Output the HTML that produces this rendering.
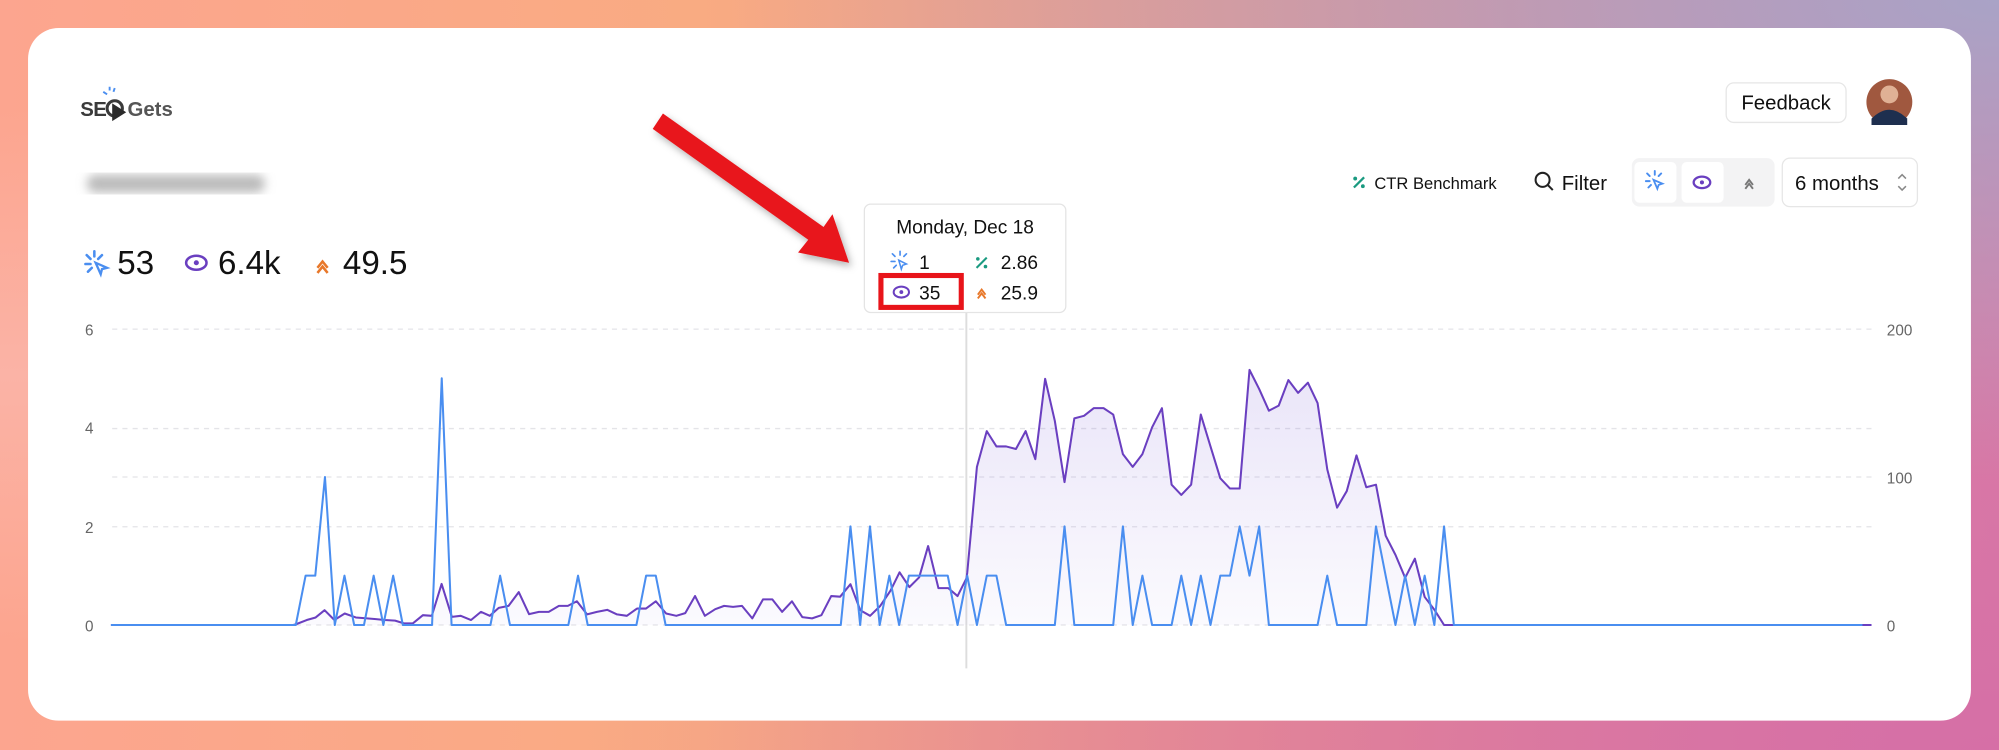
<!DOCTYPE html>
<html><head><meta charset="utf-8"><style>
html,body{margin:0;padding:0;width:1999px;height:750px;overflow:hidden}
body{background:
radial-gradient(ellipse at 100% 0%,#a9a3c6 0%,rgba(169,163,198,0) 45%),
radial-gradient(ellipse at 100% 100%,#d66fa6 0%,rgba(214,111,166,0) 50%),
radial-gradient(ellipse at 0% 50%,#fbb3a6 0%,rgba(251,179,166,0) 50%),
linear-gradient(90deg,#fca58f 0%,#f9ab82 35%,#e8918f 70%,#d97ea6 100%);
font-family:"Liberation Sans",sans-serif}
svg{position:absolute;left:0;top:0}
text{font-family:"Liberation Sans",sans-serif}
</style></head><body>
<svg width="1999" height="750" viewBox="0 0 1568 588" preserveAspectRatio="none" xmlns="http://www.w3.org/2000/svg">
<defs>
<linearGradient id="pf" x1="0" y1="0" x2="0" y2="1"><stop offset="0" stop-color="#7b5cd6" stop-opacity="0.16"/><stop offset="1" stop-color="#7b5cd6" stop-opacity="0.03"/></linearGradient>
<filter id="bl"><feGaussianBlur stdDeviation="4"/></filter>
<filter id="sh" x="-20%" y="-20%" width="140%" height="140%"><feDropShadow dx="2" dy="3" stdDeviation="3" flood-opacity="0.3"/></filter>
</defs>
<rect x="22" y="22" width="1524" height="543" rx="24" fill="#fff"/>
<!-- logo -->
<text x="63" y="91" font-size="16" font-weight="bold" fill="#3a3a3a" letter-spacing="-0.5">SE</text>
<circle cx="90" cy="85" r="6" fill="none" stroke="#3a3a3a" stroke-width="2.4"/>
<path d="M88 81 L99 88 L88 95Z" fill="#2b2b2b"/>
<text x="100" y="91" font-size="16" font-weight="bold" fill="#555">Gets</text>
<path d="M81 72l3 2M86 68l0 3M90 69l-1 3" stroke="#4a8ef0" stroke-width="1.5"/>
<!-- blurred domain -->
<rect x="68" y="137" width="140" height="14" rx="7" fill="#bbb" filter="url(#bl)"/>
<!-- stats -->
<g stroke="#4a8ef0" stroke-width="2" stroke-linecap="round"><path d="M68 200l3 3M74 197v4M80 200l-3 3M67 207h4M69 213l3-3"/></g>
<path d="M75 206l9 4-4 1-1 4z" fill="none" stroke="#4a8ef0" stroke-width="1.8"/>
<text x="92" y="215" font-size="26" fill="#111">53</text>
<ellipse cx="154" cy="206" rx="8" ry="5.5" fill="none" stroke="#6a3fc0" stroke-width="2"/><circle cx="154" cy="206" r="2" fill="#6a3fc0"/>
<text x="171" y="215" font-size="26" fill="#111">6.4k</text>
<path d="M249 210l4-5 4 5M249 214l4-5 4 5" fill="none" stroke="#e8782a" stroke-width="2"/>
<text x="269" y="215" font-size="26" fill="#111">49.5</text>
<!-- header right -->
<rect x="1354" y="65" width="94" height="31" rx="6" fill="#fff" stroke="#e6e6e6"/>
<text x="1401" y="86" font-size="16" fill="#111" text-anchor="middle">Feedback</text>
<circle cx="1482" cy="80" r="18" fill="#a0583f"/><circle cx="1482" cy="74" r="7" fill="#e0b195"/><path d="M1468 93 q14-14 28 0 v5 h-28z" fill="#1e2f4f"/>
<path d="M1062 147l8-8" stroke="#1a9a80" stroke-width="1.8"/><circle cx="1063" cy="140" r="1.5" fill="#1a9a80"/><circle cx="1069" cy="146" r="1.5" fill="#1a9a80"/>
<text x="1078" y="148" font-size="13" fill="#111">CTR Benchmark</text>
<circle cx="1210" cy="141" r="5.5" fill="none" stroke="#222" stroke-width="1.6"/><path d="M1214 145l4 4" stroke="#222" stroke-width="1.6"/>
<text x="1225" y="149" font-size="16" fill="#111">Filter</text>
<rect x="1280" y="124" width="112" height="38" rx="6" fill="#f3f3f4"/>
<rect x="1282" y="127" width="33" height="32" rx="4" fill="#fff"/><rect x="1319" y="127" width="33" height="32" rx="4" fill="#fff"/>
<g stroke="#4a8ef0" stroke-width="1.5" stroke-linecap="round"><path d="M1292 136l2 2M1298 134v3M1303 136l-2 2M1291 142h3M1293 147l2-2"/></g>
<path d="M1297 141l7 3-3 1-1 3z" fill="none" stroke="#4a8ef0" stroke-width="1.4"/>
<ellipse cx="1335" cy="143" rx="6.5" ry="4.5" fill="none" stroke="#6a3fc0" stroke-width="1.8"/><circle cx="1335" cy="143" r="1.6" fill="#6a3fc0"/>
<path d="M1369 145l3-4 3 4M1369 148l3-4 3 4" fill="none" stroke="#777" stroke-width="1.5"/>
<rect x="1398" y="124" width="106" height="38" rx="6" fill="#fff" stroke="#e6e6e6"/>
<text x="1408" y="149" font-size="16" fill="#111">6 months</text>
<path d="M1489 140l3-3 3 3M1489 146l3 3 3-3" fill="none" stroke="#888" stroke-width="1.2"/>
<!-- grid -->
<g stroke="#e4e4e8" stroke-dasharray="4 4" stroke-width="1">
<line x1="88" y1="258" x2="1468" y2="258"/><line x1="88" y1="336" x2="1468" y2="336"/><line x1="88" y1="374" x2="1468" y2="374"/><line x1="88" y1="413" x2="1468" y2="413"/><line x1="88" y1="490" x2="1468" y2="490"/>
</g>
<g font-size="12" fill="#666">
<text x="70" y="263" text-anchor="middle">6</text><text x="70" y="340" text-anchor="middle">4</text><text x="70" y="418" text-anchor="middle">2</text><text x="70" y="495" text-anchor="middle">0</text>
<text x="1480" y="263">200</text><text x="1480" y="379">100</text><text x="1480" y="495">0</text>
</g>
<g id="xl" font-size="12" fill="#666" text-anchor="middle"></g>
<line x1="758" y1="245" x2="758" y2="524" stroke="#ddd" stroke-width="1.5"/>
<path id="pfill" fill="url(#pf)"/>
<path id="pline" fill="none" stroke="#6a3fc0" stroke-width="1.6" stroke-linejoin="round"/>
<path id="bline" fill="none" stroke="#4a8ef0" stroke-width="1.6" stroke-linejoin="round"/>
<!-- tooltip -->
<rect x="678" y="160" width="158" height="85" rx="5" fill="#fff" stroke="#e4e4e4"/>
<text x="757" y="183" font-size="15" fill="#111" text-anchor="middle">Monday, Dec 18</text>
<g stroke="#4a8ef0" stroke-width="1.3" stroke-linecap="round"><path d="M700 199l2 2M706 197v3M711 199l-2 2M699 205h3M701 210l2-2"/></g>
<path d="M705 204l6 3-3 1-1 3z" fill="none" stroke="#4a8ef0" stroke-width="1.2"/>
<text x="721" y="211" font-size="15" fill="#111">1</text>
<path d="M766 210l8-8" stroke="#1a9a80" stroke-width="1.6"/><circle cx="767" cy="203" r="1.4" fill="#1a9a80"/><circle cx="773" cy="209" r="1.4" fill="#1a9a80"/>
<text x="785" y="211" font-size="15" fill="#111">2.86</text>
<ellipse cx="707" cy="229" rx="6" ry="4.3" fill="none" stroke="#6a3fc0" stroke-width="1.6"/><circle cx="707" cy="229" r="1.5" fill="#6a3fc0"/>
<text x="721" y="235" font-size="15" fill="#111">35</text>
<path d="M767 231l3-4 3 4M767 234l3-4 3 4" fill="none" stroke="#e8782a" stroke-width="1.5"/>
<text x="785" y="235" font-size="15" fill="#111">25.9</text>
<rect x="691" y="216" width="63" height="25" fill="none" stroke="#e8141a" stroke-width="4"/>
<!-- arrow -->
<g filter="url(#sh)"><path d="M512 101 L520 89 L646 178 L653 168 L666 206 L626 198 L634 188 Z" fill="#e8141a"/></g>
<script>
var X=function(d){return 87+d*7.633};
var clicks={20:1,21:1,22:3,24:1,27:1,29:1,34:5,40:1,48:1,55:1,56:1,76:2,78:2,80:1,82:1,83:1,84:1,85:1,86:1,88:1,90:1,91:1,98:2,104:2,106:1,110:1,112:1,114:1,115:1,116:2,117:1,118:2,125:1,130:2,131:1,133:1,135:1,137:2};
var bp=[];for(var d=0;d<=180;d++){var v=clicks[d]||0;bp.push(X(d).toFixed(1)+' '+(490-v*38.67).toFixed(1));}
document.getElementById('bline').setAttribute('d','M'+bp.join(' L'));
var z=[[35,318],[60,305],[80,297],[100,275],[122,305],[145,285],[170,297],[195,300],[215,302],[235,305],[258,307],[278,315],[298,315],[320,290],[340,292],[362,195],[385,295],[405,292],[428,305],[450,280],[470,292],[490,268],[512,262],[535,220],[558,287],[580,280],[602,280],[625,262],[645,262],[665,248],[688,288],[710,280],[733,274],[755,288],[777,292],[800,270],[820,270],[842,248],[865,285],[888,292],[908,284],[930,232],[952,292],[975,272],[995,262],[1015,265],[1035,262],[1058,300],[1082,242],[1103,242],[1125,280],[1147,248],[1170,296],[1192,300],[1213,290],[1235,232],[1255,234],[1278,196],[1300,275],[1322,292],[1345,262],[1368,215],[1388,160],[1410,205],[1432,175],[1452,80],[1475,208],[1497,208],[1518,232],[1538,178]];
var pts=[[87,490],[230,490]];
z.forEach(function(p){pts.push([(280+p[0]/2.24)/1.275,490-(320-p[1])*0.258]);});
var late={88:449,89:366,90:338,91:350,92:350,93:352,94:338,95:360,96:297,97:330,98:378,99:328,100:326,101:320,102:320,103:325,104:356,105:366,106:356,107:335,108:320,109:380,110:388,111:380,112:325,113:350,114:375,115:383,116:383,117:290,118:305,119:322,120:318,121:298,122:308,123:300,124:316,125:368,126:398,127:385,128:357,129:382,130:380,131:420,132:435,133:453,134:438,135:468,136:478,137:490};
for(var d=88;d<=137;d++)pts.push([X(d),late[d]]);
pts.push([1468,490]);
var s=pts.map(function(p){return p[0].toFixed(1)+' '+p[1].toFixed(1)}).join(' L');
document.getElementById('pline').setAttribute('d','M'+s);
document.getElementById('pfill').setAttribute('d','M'+s+' L1468 490 L87 490 Z');
var labs=['Sep 21','Oct 3','Oct 15','Oct 27','Nov 8','Nov 20','Dec 2','Dec 14','Dec 26','Jan 7','Jan 19','Jan 31','Feb 12','Feb 24','Mar 7','Mar 19'];
var g=document.getElementById('xl'),h='';
labs.forEach(function(l,i){h+='<text x="'+X(i*12).toFixed(1)+'" y="516">'+l+'</text>';});
g.innerHTML=h;
</script>
</svg>
</body></html>
